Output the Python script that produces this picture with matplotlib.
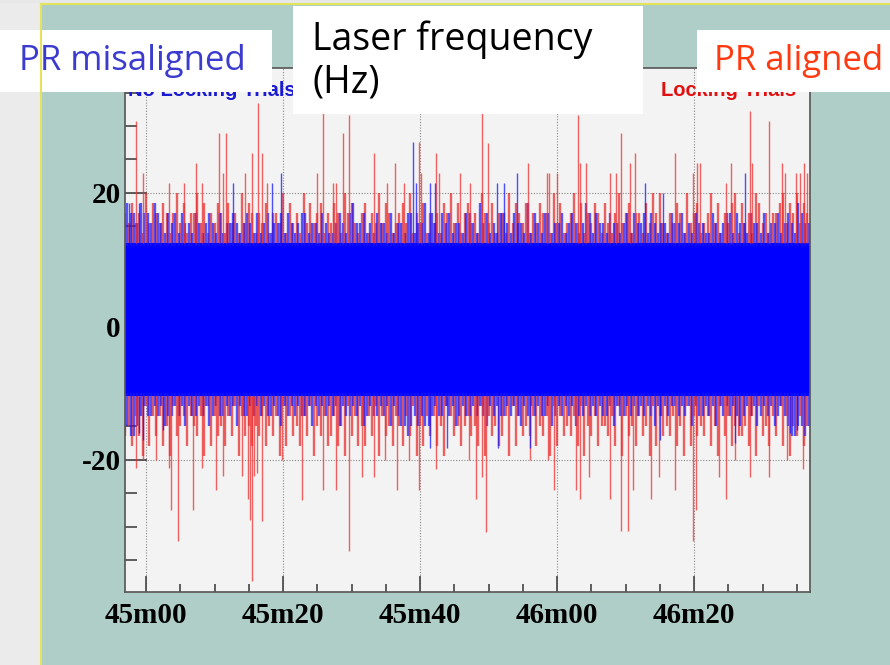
import numpy as np
import matplotlib.pyplot as plt
from matplotlib.patches import Rectangle
from matplotlib.lines import Line2D

# time axis: seconds after 45m00
tick_pos = [0, 20, 40, 60, 80]
tick_labels = ['45m00', '45m20', '45m40', '46m00', '46m20']

# solid part of the "no locking" band (Hz)
band_lo = -10.5
band_hi = 12.5

# large excursions (time s, value Hz)
red_up_t = [-1.4, -0.5, 3.3, 5.5, 7.3, 8.1, 10.6, 11.2, 11.7, 14.4, 15.5, 16.4, 17.0, 17.6,
            24.9, 25.9, 27.3, 27.8, 28.8, 29.6, 33.3, 35.2, 36.4, 37.6, 39.8, 40.1, 42.3, 42.8,
            45.8, 47.3, 49.0, 49.9, 55.7, 58.5, 58.8, 60.0, 63.0, 63.4, 64.2, 67.7, 68.6, 69.3,
            70.6, 71.4, 77.2, 79.9, 80.4, 80.9, 84.7, 85.4, 88.2, 88.4, 90.9, 92.9, 93.3, 94.9,
            95.4, 96.0, 96.5]
red_up_v = [30.7, 22.9, 21.4, 21.4, 24.4, 21.4, 29.0, 22.9, 29.0, 22.9, 25.9, 33.5, 25.9, 21.4,
            22.9, 33.0, 21.4, 21.4, 29.0, 31.7, 25.9, 21.5, 24.5, 21.5, 27.6, 22.9, 25.9, 22.9,
            22.9, 21.4, 34.0, 27.5, 24.4, 22.9, 22.9, 22.9, 31.7, 24.4, 24.4, 22.9, 22.9, 29.0,
            24.4, 25.9, 25.9, 22.9, 24.4, 24.4, 21.4, 24.4, 32.2, 24.4, 30.7, 24.4, 22.9, 22.9,
            22.9, 24.4, 22.9]
red_dn_t = [-1.5, -0.4, 1.5, 3.4, 3.7, 4.6, 6.9, 8.1, 10.2, 11.2, 14.0, 14.9, 15.2, 15.5,
            15.8, 16.2, 17.0, 19.9, 22.8, 25.8, 27.8, 29.6, 31.5, 33.3, 34.9, 36.6, 38.4, 39.8,
            42.3, 47.2, 48.2, 49.0, 49.6, 56.0, 58.7, 59.6, 62.8, 63.4, 64.7, 67.7, 69.4, 70.3,
            71.1, 73.7, 74.9, 77.2, 79.9, 80.3, 83.6, 84.6, 86.0, 88.1, 90.9, 93.5, 95.9]
red_dn_v = [-21.2, -20.0, -20.0, -21.2, -27.5, -32.2, -27.5, -21.2, -24.5, -22.4, -22.4, -25.9,
            -29.0, -38.2, -22.4, -22.0, -29.2, -20.0, -26.0, -24.5, -24.5, -33.7, -22.6, -22.5,
            -20.0, -24.5, -20.0, -24.5, -21.3, -20.0, -25.9, -22.5, -30.8, -20.0, -20.0, -24.5,
            -24.5, -25.9, -22.5, -25.9, -30.7, -30.7, -24.5, -25.9, -22.5, -24.5, -32.2, -27.5,
            -22.5, -25.9, -20.0, -22.5, -22.5, -20.0, -21.3]
blue_up_t = [-2.5, -1.0, 12.7, 18.4, 19.7, 39.0, 39.4, 41.4, 42.2, 51.3, 52.2, 54.2, 72.9, 75.5, 87.5]
blue_up_v = [18.5, 18.5, 21.4, 21.5, 22.9, 27.6, 21.4, 21.5, 21.4, 21.5, 21.5, 22.9, 21.5, 20.0, 22.9]
blue_dn_t = [-1.0, -0.5, 2.5, 41.5, 44.0, 51.4, 56.1, 75.0, 86.0, 94.0, 95.0]
blue_dn_v = [-16.0, -17.0, -15.5, -18.2, -18.2, -18.2, -18.2, -17.0, -17.5, -16.0, -15.5]

# ragged edge of the band, one digit per 0.5 s from -3 s (level = edge +/- 1.5 Hz * digit)
ragged_red_up = ("32423152432431352413" "35241324314231524313" "24133251423152423413"
                 "24315342134132524312" "34251324132314352413" "42315324133152432413"
                 "24331524123524132431" "42135234133142535213" "24315234123524132451"
                 "42315423133452435243")
ragged_blue_up = ("43324332432132313221" "32123213122321232131" "23122313212331221321"
                  "12321342231213221312" "21331224132132312213" "32142312133213221413"
                  "21331223123212431322" "13221231322313212213" "22312132211321233132"
                  "21322131223123214322")
ragged_red_dn = ("43524615242536143252" "34261524352416243534" "25342615243524163425"
                 "42536142535241624352" "35241635242536124353" "24351624354261524342"
                 "53426152434251634253" "34251624352436152434" "25361524342536142534"
                 "43526143524152634253")
ragged_blue_dn = ("34432122121322121312" "21213212212131221212" "12212312121221312121"
                  "21312212132122121312" "33432323321221213212" "21212312122121231212"
                  "12213212121322121212" "21312212121212312121" "12121312212131212123"
                  "21213212132123443343")

W, H = 890, 665
BG = '#b0cec8'


def px(x, y):
    return x / W, 1 - y / H


def ragged(s, offset):
    d = np.array([int(c) for c in s], dtype=float)
    t = -3 + 0.5 * np.arange(len(d)) + offset
    return t, d


def fig_box(fig, x0, y0, x1, y1, color):
    fx, fy = px(x0, y1)
    fig.patches.append(Rectangle((fx, fy), (x1 - x0) / W, (y1 - y0) / H,
                                 transform=fig.transFigure, facecolor=color,
                                 edgecolor='none', zorder=1))


def main():
    plt.rcParams['axes.unicode_minus'] = False
    fig = plt.figure(figsize=(W / 100, H / 100), dpi=100, facecolor=BG)
    ax = fig.add_axes([125 / W, 73 / H, 685 / W, 524 / H])
    ax.set_facecolor('#f3f3f3')

    red = '#e82020'
    blue = '#1515ff'

    # solid band
    ax.fill_between([-3.1, 97], band_lo, band_hi, color='#0000ff', lw=0, zorder=3)

    # ragged edges
    t, d = ragged(ragged_red_up, 0.0)
    m = d > 0
    ax.vlines(t[m], band_hi, band_hi + 1.5 * d[m], colors=red, lw=1.7, alpha=0.7, zorder=4)
    t, d = ragged(ragged_red_dn, 0.0)
    m = d > 0
    ax.vlines(t[m], band_lo, band_lo - 1.5 * d[m], colors=red, lw=1.7, alpha=0.7, zorder=4)
    t, d = ragged(ragged_blue_up, 0.25)
    m = d > 0
    ax.vlines(t[m], band_hi - 0.5, band_hi + 1.5 * d[m], colors=blue, lw=1.7, alpha=0.7, zorder=5)
    t, d = ragged(ragged_blue_dn, 0.25)
    m = d > 0
    ax.vlines(t[m], band_lo + 0.5, band_lo - 1.5 * d[m], colors=blue, lw=1.7, alpha=0.7, zorder=5)

    # big spikes
    ax.vlines(red_up_t, band_hi, red_up_v, colors='#ee3030', lw=1.0, alpha=0.75, zorder=6)
    ax.vlines(red_dn_t, band_lo, red_dn_v, colors='#ee3030', lw=1.0, alpha=0.75, zorder=6)
    ax.vlines(blue_up_t, band_hi, blue_up_v, colors=blue, lw=1.0, alpha=0.75, zorder=6)
    ax.vlines(blue_dn_t, band_lo, blue_dn_v, colors=blue, lw=1.0, alpha=0.75, zorder=6)

    ax.set_xlim(-3.07, 96.93)
    ax.set_ylim(-39.8, 38.7)
    ax.set_xticks(tick_pos)
    ax.set_xticklabels(tick_labels)
    ax.set_xticks(np.arange(-0, 96, 5), minor=True)
    ax.set_yticks([-20, 0, 20])
    ax.set_yticks(np.arange(-35, 36, 5), minor=True)
    ax.grid(which='major', color='#8a8a8a', linestyle=(0, (1, 1.5)), linewidth=0.8, zorder=1)
    ax.set_axisbelow(True)
    for sp in ax.spines.values():
        sp.set_color('#555555')
        sp.set_linewidth(1.2)
        sp.set_zorder(8)
    ax.tick_params(axis='both', which='both', direction='in', color='#444444', width=1.2)
    ax.tick_params(axis='x', which='major', length=11.5, pad=7)
    ax.tick_params(axis='x', which='minor', length=5.8)
    ax.tick_params(axis='y', which='major', length=15.8, pad=3)
    ax.tick_params(axis='y', which='minor', length=8.6)
    for lab in ax.get_xticklabels() + ax.get_yticklabels():
        lab.set_fontfamily('Liberation Serif')
        lab.set_fontweight('bold')
        lab.set_fontsize(21)

    # pad titles inside the frame
    ax.text(0.004, 0.958, 'No Locking Trials', transform=ax.transAxes, color='#1a1ad0',
            fontsize=14.5, fontweight='bold', family='Liberation Sans', va='center', ha='left', zorder=9)
    ax.text(0.782, 0.958, 'Locking Trials', transform=ax.transAxes, color='#e01010',
            fontsize=14.5, fontweight='bold', family='Liberation Sans', va='center', ha='left', zorder=9)

    # slide background around the picture
    fig_box(fig, 0, 0, 40, H, '#ebebeb')
    fig_box(fig, 0, 0, W, 3, '#e8e8e8')
    fig.lines.append(Line2D([41 / W, 41 / W], [0, 1 - 4 / H], transform=fig.transFigure,
                            color='#e4e45c', lw=1.5, zorder=2))
    fig.lines.append(Line2D([41 / W, 1], [1 - 4 / H, 1 - 4 / H], transform=fig.transFigure,
                            color='#e4e45c', lw=1.5, zorder=2))

    # annotation boxes
    fig_box(fig, 0, 30, 272, 92, 'white')
    fig_box(fig, 293, 6, 643, 114, 'white')
    fig_box(fig, 697, 30, W, 92, 'white')
    x, y = px(19, 61)
    fig.text(x, y, 'PR misaligned', color='#3b3bd0', fontsize=25, family='Open Sans',
             va='center', ha='left', zorder=3)
    x, y = px(312, 40)
    fig.text(x, y, 'Laser frequency', color='black', fontsize=27, family='Open Sans',
             va='center', ha='left', zorder=3)
    x, y = px(312, 83)
    fig.text(x, y, '(Hz)', color='black', fontsize=27, family='Open Sans',
             va='center', ha='left', zorder=3)
    x, y = px(714, 61)
    fig.text(x, y, 'PR aligned', color='#ff3a10', fontsize=25, family='Open Sans',
             va='center', ha='left', zorder=3)

    fig.savefig('out.png', dpi=100, facecolor=BG)


if __name__ == '__main__':
    main()
